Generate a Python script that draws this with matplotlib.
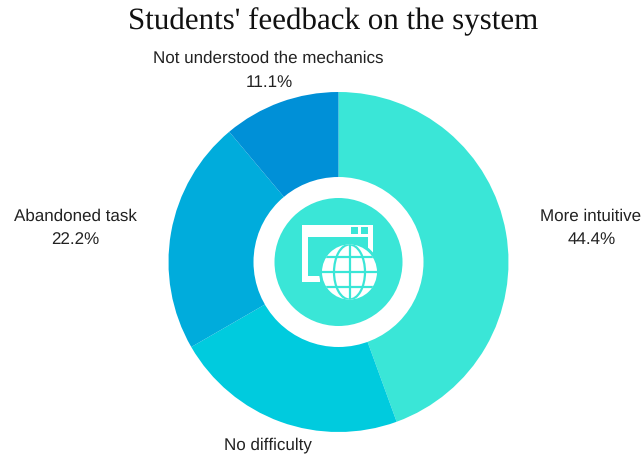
import matplotlib
matplotlib.use("Agg")
import matplotlib.pyplot as plt
from matplotlib.patches import Circle, Ellipse, Rectangle

# Survey results
categories = ["More intuitive", "No difficulty", "Abandoned task", "Not understood the mechanics"]
shares = [44.4, 22.2, 22.2, 11.1]
slice_colors = ["#3ae6d7", "#00cbde", "#00acdc", "#0090d7"]

title = "Students' feedback on the system"

plt.rcParams["text.hinting"] = "none"
plt.rcParams["text.hinting_factor"] = 1

fig = plt.figure(figsize=(6.43, 4.56), dpi=100)
ax = fig.add_axes([0, 0, 1, 1])

# Donut, clockwise from the top (y axis is flipped below, so counterclock here)
cx, cy = 338.5, 263
ax.pie(shares, colors=slice_colors, center=(cx, cy), radius=170, startangle=-90,
       counterclock=True, normalize=True, frame=True,
       wedgeprops=dict(linewidth=0))
ax.set_xlim(0, 643)
ax.set_ylim(456, 0)
ax.set_aspect("equal")
ax.axis("off")

teal = slice_colors[0]
ax.add_patch(Circle((cx, cy), 85, color="white", lw=0, zorder=3))
ax.add_patch(Circle((cx, cy), 64, color=teal, lw=0, zorder=4))

# Browser window icon
ax.add_patch(Rectangle((302, 226), 71, 57, color="white", lw=0, zorder=5))
ax.add_patch(Rectangle((308, 238), 60, 39, color=teal, lw=0, zorder=6))
ax.add_patch(Rectangle((320, 255), 55, 30, color=teal, lw=0, zorder=6))
ax.add_patch(Rectangle((351, 228), 7, 6.5, color=teal, lw=0, zorder=6))
ax.add_patch(Rectangle((361, 228), 7, 6.5, color=teal, lw=0, zorder=6))

# Globe on top of the window
gx, gy, gr = 349.5, 273, 27.5
ax.add_patch(Circle((gx, gy), gr + 3, color=teal, lw=0, zorder=7))
ax.add_patch(Circle((gx, gy), gr, color="white", lw=0, zorder=8))
clip = Circle((gx, gy), gr, transform=ax.transData)
grid_lines = []
for dy in (-15, 0, 15):
    grid_lines += ax.plot([gx - gr, gx + gr], [gy + dy, gy + dy], color=teal, lw=1.6, zorder=9)
grid_lines += ax.plot([gx, gx], [gy - gr, gy + gr], color=teal, lw=1.6, zorder=9)
for artist in grid_lines:
    artist.set_clip_path(clip)
meridians = Ellipse((gx, gy), 31, 2 * gr, fill=False, ec=teal, lw=1.6, zorder=9)
ax.add_patch(meridians)
meridians.set_clip_path(clip)

# Labels
label_font = dict(family="Liberation Sans", fontsize=11.9, color="#222222", ha="center", va="center")
label_pos = [(591, 216), (268, 445.5), (75, 216), (268.5, 58.5)]
for name, share, (x, y) in zip(categories, shares, label_pos):
    ax.text(x, y, name, **label_font)
    if name != "No difficulty":
        ax.text(x + 0.5, y + 24, f"{share}%", **label_font)

ax.text(333, 22, title, family="Liberation Serif", fontsize=22, color="#111111",
        ha="center", va="center")

fig.savefig("out.png", dpi=100)
